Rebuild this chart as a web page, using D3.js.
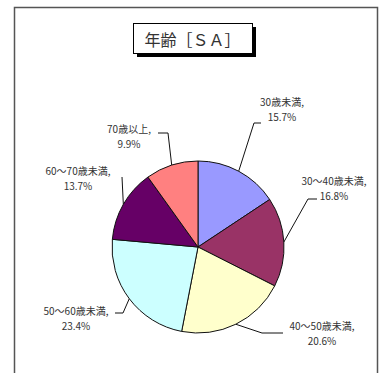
<!DOCTYPE html>
<html>
<head>
<meta charset="utf-8">
<script src="https://cdn.jsdelivr.net/npm/d3@7"></script>
<style>
  html, body { margin: 0; padding: 0; background: #fff; }
  svg { display: block; }
  text { font-family: "Noto Sans CJK JP", "Noto Sans", sans-serif; }
</style>
</head>
<body>
<svg id="chart" width="382" height="373"></svg>
<script>
// Age groups and their shares (%)
const categories = ["30歳未満", "30～40歳未満", "40～50歳未満", "50～60歳未満", "60～70歳未満", "70歳以上"];
const values = [15.7, 16.8, 20.6, 23.4, 13.7, 9.9];
const colors = ["#9999FF", "#993366", "#FFFFCC", "#CCFFFF", "#660066", "#FF8080"];
const title = "年齢［ＳＡ］";

// Label block centre and leader-line elbow (label end first) per slice
const labelPos = [
  { x: 282, y: 103, elbow: [[261, 123], [254, 123]] },
  { x: 334, y: 182, elbow: [[317, 199], [308, 199]] },
  { x: 322, y: 327, elbow: [[283, 333], [262, 333]] },
  { x: 76, y: 312, elbow: [[115, 313], [123, 313]] },
  { x: 78, y: 172, elbow: [[122, 177], [122, 177]] },
  { x: 129, y: 130, elbow: [[158, 133], [168, 133]] }
];

const svg = d3.select("#chart");
const W = 382, H = 373;

// Outer frame (left, top, right edges)
svg.append("path")
  .attr("d", `M14.5,${H} L14.5,7.5 L377.5,7.5 L377.5,${H}`)
  .attr("fill", "none")
  .attr("stroke", "#555")
  .attr("stroke-width", 1.5);

// Title box with drop shadow
const tb = { x: 133, y: 23, w: 119, h: 30 };
svg.append("rect")
  .attr("x", tb.x + 4).attr("y", tb.y + 4)
  .attr("width", tb.w).attr("height", tb.h)
  .attr("fill", "#000");
svg.append("rect")
  .attr("x", tb.x + 0.5).attr("y", tb.y + 0.5)
  .attr("width", tb.w).attr("height", tb.h)
  .attr("fill", "#fff").attr("stroke", "#000").attr("stroke-width", 1);
svg.append("text")
  .attr("x", tb.x + tb.w / 2).attr("y", tb.y + tb.h / 2 + 1)
  .attr("text-anchor", "middle")
  .attr("dominant-baseline", "central")
  .attr("font-size", 16)
  .attr("fill", "#333")
  .text(title);

// Pie starting at 12 o'clock, clockwise
const cx = 198, cy = 247, r = 86;
const pie = d3.pie().sort(null).value(d => d);
const arcs = pie(values);
const arc = d3.arc().innerRadius(0).outerRadius(r);

const g = svg.append("g").attr("transform", `translate(${cx},${cy})`);
g.selectAll("path.slice")
  .data(arcs)
  .join("path")
  .attr("class", "slice")
  .attr("d", arc)
  .attr("fill", (d, i) => colors[i])
  .attr("stroke", "#111")
  .attr("stroke-width", 1);

// Leader lines: from label elbow to the slice's mid-angle on the rim
arcs.forEach((a, i) => {
  const lp = labelPos[i];
  const ang = (a.startAngle + a.endAngle) / 2;
  const ex = cx + r * Math.sin(ang);
  const ey = cy - r * Math.cos(ang);
  const pts = [lp.elbow[0], lp.elbow[1], [ex, ey]];
  svg.append("path")
    .attr("d", d3.line()(pts))
    .attr("fill", "none")
    .attr("stroke", "#111")
    .attr("stroke-width", 1);
});

// Labels: category on first line, percentage on second
arcs.forEach((a, i) => {
  const lp = labelPos[i];
  svg.append("text")
    .attr("x", lp.x).attr("y", lp.y + 3)
    .attr("text-anchor", "middle")
    .attr("font-size", 10)
    .attr("fill", "#333")
    .text(categories[i] + ",");
  svg.append("text")
    .attr("x", lp.x).attr("y", lp.y + 17.7)
    .attr("text-anchor", "middle")
    .attr("font-size", 10)
    .attr("fill", "#333")
    .text(d3.format(".1f")(values[i]) + "%");
});
</script>
</body>
</html>
